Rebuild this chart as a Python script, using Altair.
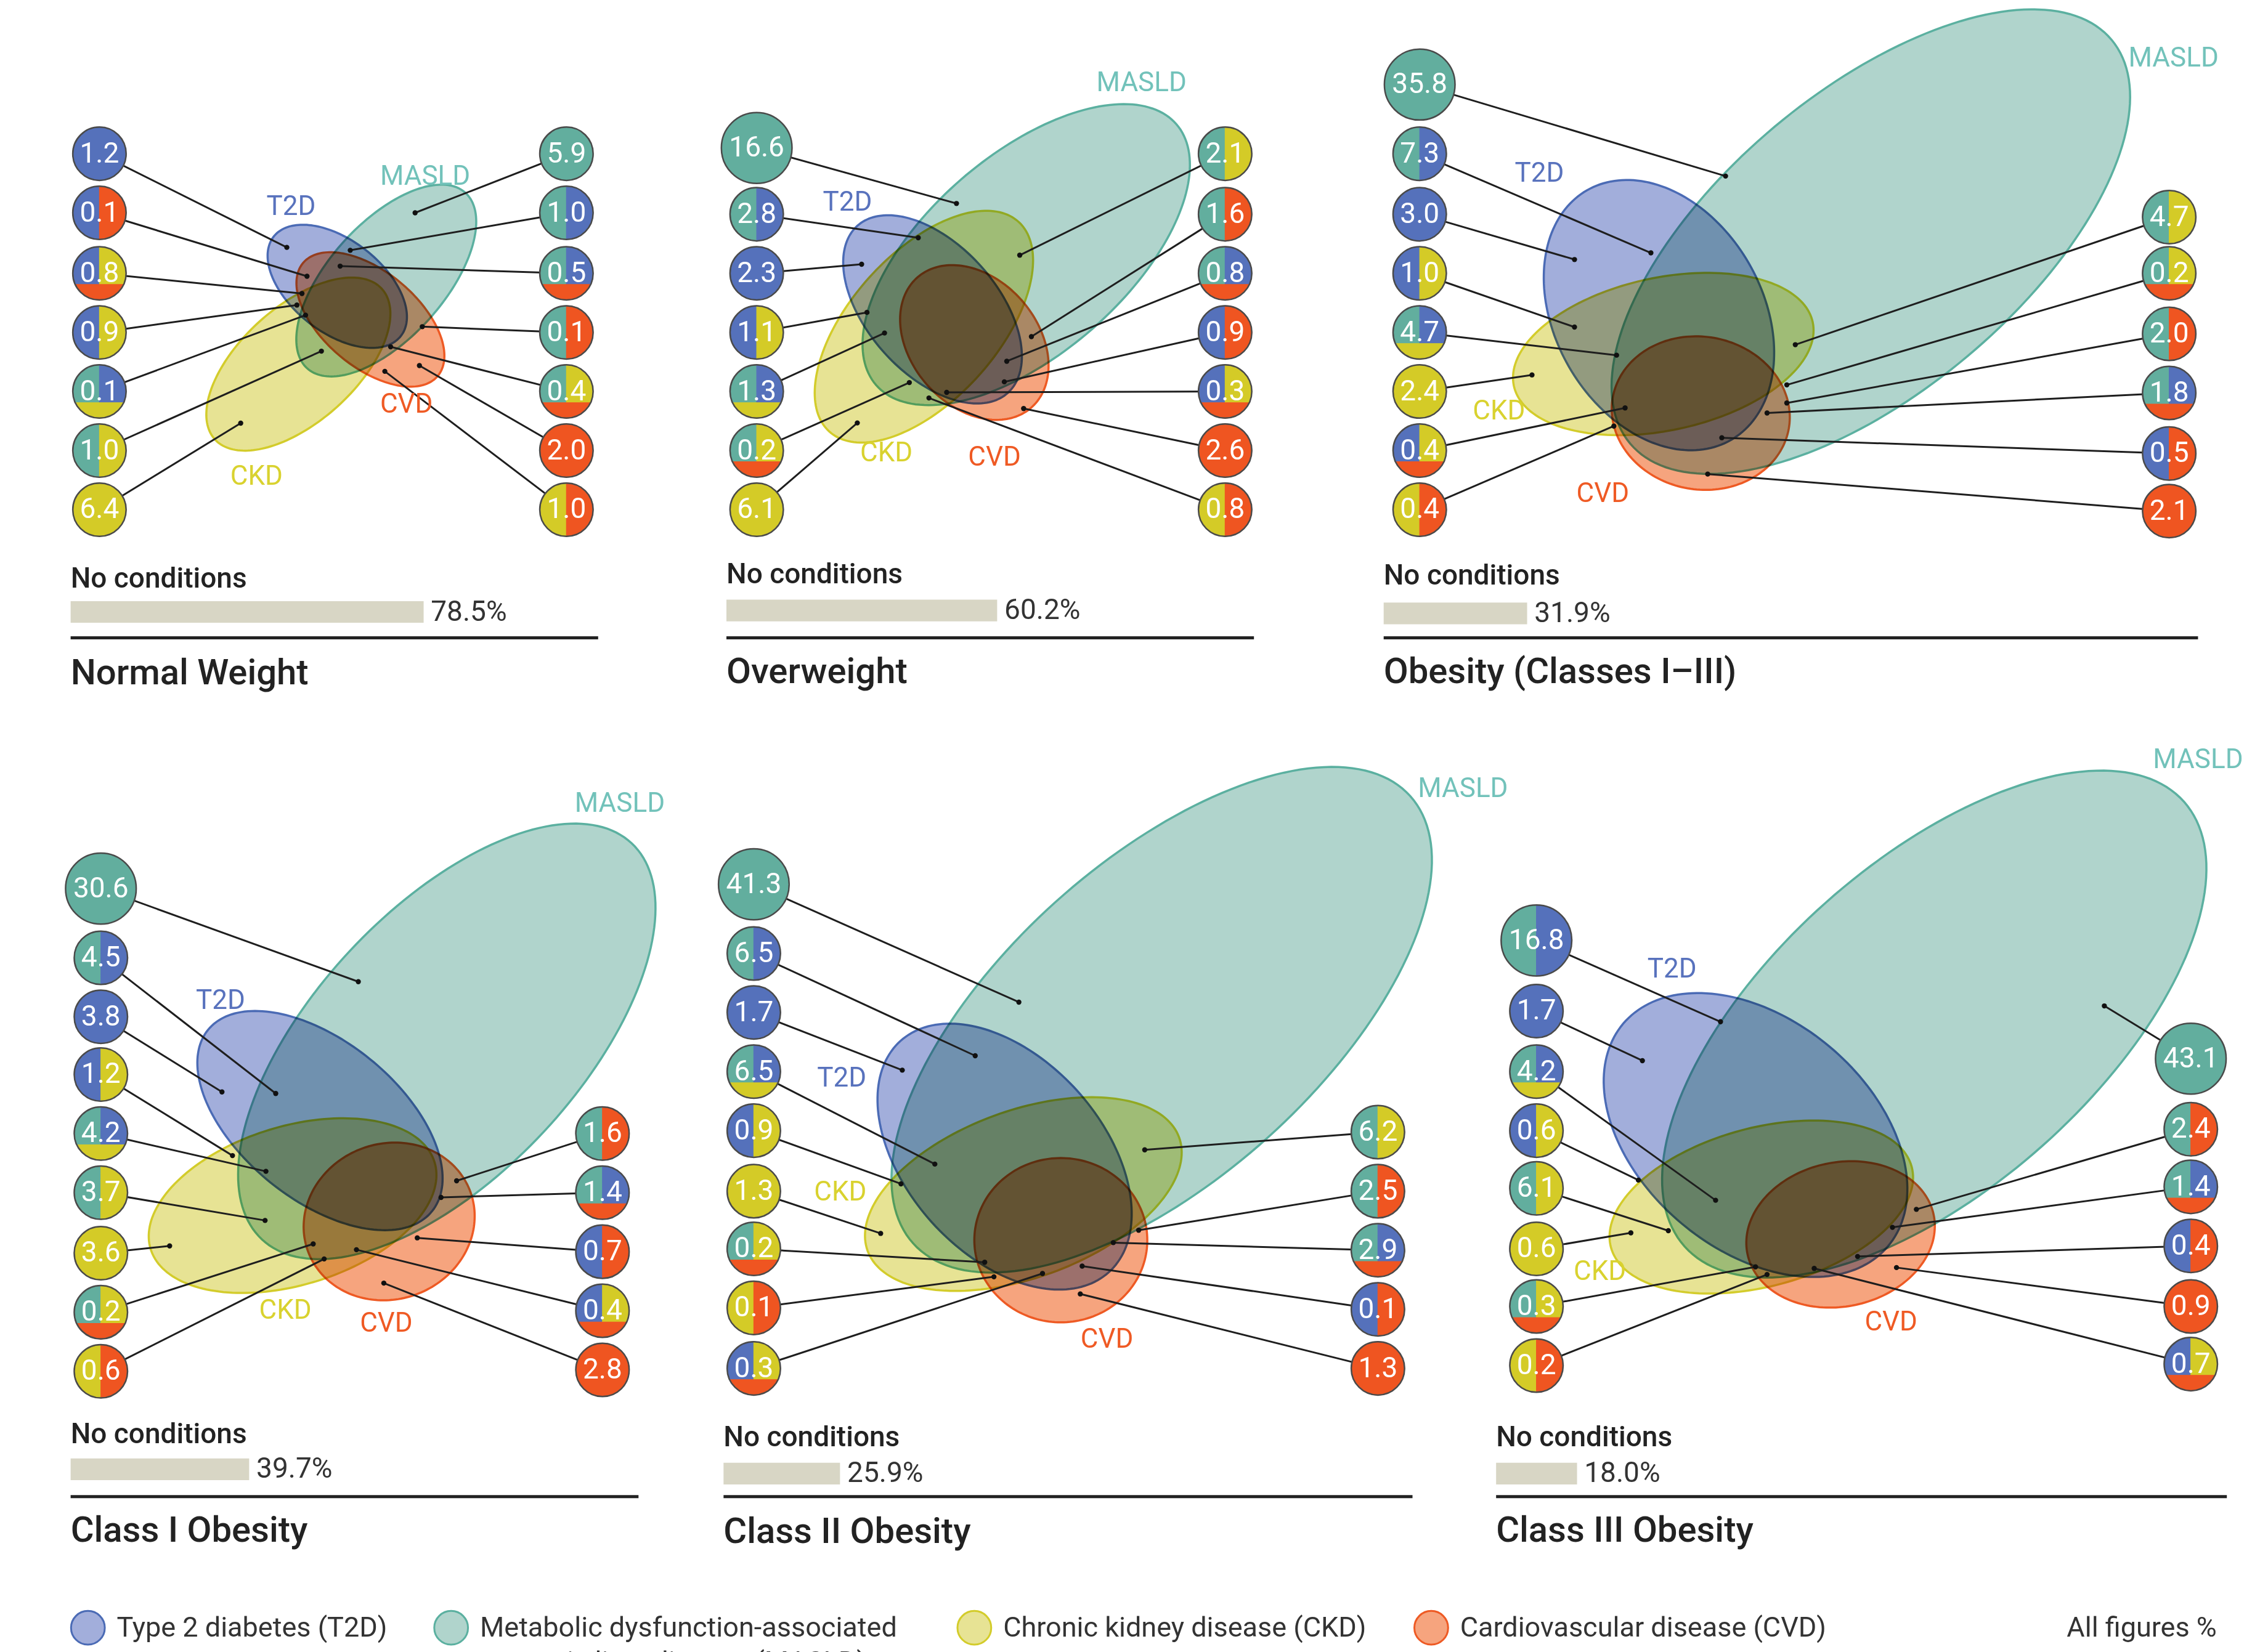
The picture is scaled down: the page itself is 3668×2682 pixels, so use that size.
import math
import numpy as np
import pandas as pd
import altair as alt

# ------------------------------------------------------------------ data
PANEL_TITLES = ["Normal Weight", "Overweight", "Obesity (Classes I\u2013III)",
                "Class I Obesity", "Class II Obesity", "Class III Obesity"]
NO_CONDITIONS = [78.5, 60.2, 31.9, 39.7, 25.9, 18.0]

# combinations: conditions joined by "+"; order = left half, right half, bottom
NW_LEFT = ["T2D", "T2D+CVD", "T2D+CKD+CVD", "T2D+CKD", "MASLD+T2D+CKD", "MASLD+CKD", "CKD"]
NW_LEFT_VAL = [1.2, 0.1, 0.8, 0.9, 0.1, 1.0, 6.4]
NW_RIGHT = ["MASLD", "MASLD+T2D", "MASLD+T2D+CVD", "MASLD+CVD", "MASLD+CKD+CVD", "CVD", "CKD+CVD"]
NW_RIGHT_VAL = [5.9, 1.0, 0.5, 0.1, 0.4, 2.0, 1.0]

OW_LEFT = ["MASLD", "MASLD+T2D", "T2D", "T2D+CKD", "MASLD+T2D+CKD", "MASLD+CKD+CVD", "CKD"]
OW_LEFT_VAL = [16.6, 2.8, 2.3, 1.1, 1.3, 0.2, 6.1]
OW_RIGHT = ["MASLD+CKD", "MASLD+CVD", "MASLD+T2D+CVD", "T2D+CVD", "T2D+CKD+CVD", "CVD", "CKD+CVD"]
OW_RIGHT_VAL = [2.1, 1.6, 0.8, 0.9, 0.3, 2.6, 0.8]

OB_LEFT = ["MASLD", "MASLD+T2D", "T2D", "T2D+CKD", "MASLD+T2D+CKD", "CKD", "T2D+CKD+CVD", "CKD+CVD"]
OB_LEFT_VAL = [35.8, 7.3, 3.0, 1.0, 4.7, 2.4, 0.4, 0.4]
OB_RIGHT = ["MASLD+CKD", "MASLD+CKD+CVD", "MASLD+CVD", "MASLD+T2D+CVD", "T2D+CVD", "CVD"]
OB_RIGHT_VAL = [4.7, 0.2, 2.0, 1.8, 0.5, 2.1]

C1_LEFT = ["MASLD", "MASLD+T2D", "T2D", "T2D+CKD", "MASLD+T2D+CKD", "MASLD+CKD", "CKD", "MASLD+CKD+CVD", "CKD+CVD"]
C1_LEFT_VAL = [30.6, 4.5, 3.8, 1.2, 4.2, 3.7, 3.6, 0.2, 0.6]
C1_RIGHT = ["MASLD+CVD", "MASLD+T2D+CVD", "T2D+CVD", "T2D+CKD+CVD", "CVD"]
C1_RIGHT_VAL = [1.6, 1.4, 0.7, 0.4, 2.8]

C2_LEFT = ["MASLD", "MASLD+T2D", "T2D", "MASLD+T2D+CKD", "T2D+CKD", "CKD", "MASLD+CKD+CVD", "CKD+CVD", "T2D+CKD+CVD"]
C2_LEFT_VAL = [41.3, 6.5, 1.7, 6.5, 0.9, 1.3, 0.2, 0.1, 0.3]
C2_RIGHT = ["MASLD+CKD", "MASLD+CVD", "MASLD+T2D+CVD", "T2D+CVD", "CVD"]
C2_RIGHT_VAL = [6.2, 2.5, 2.9, 0.1, 1.3]

C3_LEFT = ["MASLD+T2D", "T2D", "MASLD+T2D+CKD", "T2D+CKD", "MASLD+CKD", "CKD", "MASLD+CKD+CVD", "CKD+CVD"]
C3_LEFT_VAL = [16.8, 1.7, 4.2, 0.6, 6.1, 0.6, 0.3, 0.2]
C3_RIGHT = ["MASLD", "MASLD+CVD", "MASLD+T2D+CVD", "T2D+CVD", "CVD", "T2D+CKD+CVD"]
C3_RIGHT_VAL = [43.1, 2.4, 1.4, 0.4, 0.9, 0.7]

CONDITIONS = ["T2D", "MASLD", "CKD", "CVD"]
LEGEND_LABELS = ["Type 2 diabetes (T2D)", "Metabolic dysfunction-associated",
                 "Chronic kidney disease (CKD)", "Cardiovascular disease (CVD)"]
LEGEND_LINE2 = "steatotic liver disease (MASLD)"
NOTE = "All figures %"

# ------------------------------------------------------------------ styles
FILL = {"T2D": "#a2aedb", "MASLD": "#b0d4cc", "CKD": "#e7e394", "CVD": "#f6a47e"}
EDGE = {"T2D": "#4b6bb5", "MASLD": "#5bb0a0", "CKD": "#d3cc2b", "CVD": "#ee5a24"}
SOLID = {"T2D": "#5571bb", "MASLD": "#62ae9e", "CKD": "#d4cb27", "CVD": "#ef5521"}
LABELC = {"T2D": "#5872bd", "MASLD": "#72c2ba", "CKD": "#d9d22f", "CVD": "#ef5a24"}
FONT = "Roboto"

# ------------------------------------------------------------------ layout (reference units)
S = 3668 / 1568.0          # reference unit -> pixel
W, H = 3652, 2666
YSHIFT = 2.0
XD = [8 / S, (8 + W) / S]
YD = [8 / S + YSHIFT, (8 + H) / S + YSHIFT]
PCT_LEN = 3.12             # units per percent for the "no conditions" bar

LAYOUT = [
    dict(x0=49, sx2=415, colL=69, colR=393,
         rowsL=[104, 145, 187, 228, 269, 310, 351], rowsR=[104, 145, 187, 228, 269, 310, 351],
         ync=399, ybar=422, ysep=440, ytitle=465,
         ell={"T2D": (234, 196, 56, 32, 38), "MASLD": (268, 192, 82, 40, -48),
              "CKD": (207, 250, 78, 40, -42), "CVD": (257, 219, 61, 33, 40)},
         lab={"T2D": (202, 141), "MASLD": (295, 120), "CKD": (178, 328), "CVD": (282, 278)},
         dots={"T2D": (199, 169), "T2D+CVD": (213, 189), "T2D+CKD+CVD": (209.5, 201),
               "T2D+CKD": (206, 209), "MASLD+T2D+CKD": (212, 216), "MASLD+CKD": (223, 241),
               "CKD": (167, 291), "MASLD": (288, 145), "MASLD+T2D": (243, 171),
               "MASLD+T2D+CVD": (236, 182), "MASLD+CVD": (293, 224), "MASLD+CKD+CVD": (271, 238),
               "CVD": (291, 251), "CKD+CVD": (267, 255)}),
    dict(x0=504, sx2=870, colL=525, colR=850,
         rowsL=[100, 146, 187, 228, 269, 310, 351], rowsR=[104, 146, 187, 228, 269, 310, 351],
         ync=396, ybar=421, ysep=440, ytitle=464,
         ell={"T2D": (647, 212, 78, 45, 48), "MASLD": (712, 174, 138, 69, -41),
              "CKD": (641, 224, 98, 51, -48), "CVD": (676, 235, 60, 44, 49)},
         lab={"T2D": (588, 138), "MASLD": (792, 55), "CKD": (615, 312), "CVD": (690, 315)},
         dots={"MASLD": (663.6, 138.5), "MASLD+T2D": (637.1, 162.3), "T2D": (597.8, 180.7),
               "T2D+CKD": (601.5, 214.1), "MASLD+T2D+CKD": (613.7, 228.4),
               "MASLD+CKD+CVD": (630.9, 262.8), "CKD": (594.8, 290.8),
               "MASLD+CKD": (707.5, 174.4), "MASLD+CVD": (715.6, 230.9),
               "MASLD+T2D+CVD": (698.5, 248), "T2D+CVD": (696.8, 262.3),
               "T2D+CKD+CVD": (656.8, 269.6), "CVD": (710.2, 280.8), "CKD+CVD": (644.5, 273.5)}),
    dict(x0=960, sx2=1525, colL=985, colR=1505,
         rowsL=[56, 104, 146, 187, 228, 269, 310, 351], rowsR=[148, 187, 229, 270, 312, 352],
         ync=397, ybar=423, ysep=440, ytitle=464,
         ell={"T2D": (1151, 216, 100, 72, 60), "MASLD": (1298, 165, 218, 104, -40),
              "CKD": (1154, 243, 106, 53, -12), "CVD": (1180, 284, 62, 53, 10)},
         lab={"T2D": (1068, 118), "MASLD": (1508, 38), "CKD": (1040, 283), "CVD": (1112, 340)},
         dots={"MASLD": (1197.2, 119.5), "MASLD+T2D": (1145.4, 172.8), "T2D": (1092.4, 177.4),
               "T2D+CKD": (1092.4, 224.3), "MASLD+T2D+CKD": (1121.6, 243.8), "CKD": (1062.9, 257.5),
               "T2D+CKD+CVD": (1127.5, 280.4), "CKD+CVD": (1119.7, 293),
               "MASLD+CKD": (1245.6, 236.5), "MASLD+CKD+CVD": (1239.7, 264.4),
               "MASLD+CVD": (1239.7, 277), "MASLD+T2D+CVD": (1226, 283.9),
               "T2D+CVD": (1194.6, 301.1), "CVD": (1184.8, 326.3)}),
    dict(x0=49, sx2=443, colL=70, colR=418,
         rowsL=[614, 662, 703, 743, 784, 825, 867, 908, 949], rowsR=[784, 825, 866, 907, 948],
         ync=993, ybar=1017, ysep=1036, ytitle=1060,
         ell={"T2D": (222, 775, 100, 55, 39), "MASLD": (310, 720, 188, 92, -47),
              "CKD": (203, 834, 103, 55, -17), "CVD": (270, 845, 60, 54, -20)},
         lab={"T2D": (153, 692), "MASLD": (430, 555), "CKD": (198, 907), "CVD": (268, 916)},
         dots={"MASLD": (248.6, 678.6), "MASLD+T2D": (191.3, 756.2), "T2D": (154, 755.1),
               "T2D+CKD": (161.3, 799.3), "MASLD+T2D+CKD": (184.5, 810.2),
               "MASLD+CKD": (183.9, 844.3), "CKD": (117.7, 862), "MASLD+CKD+CVD": (217.3, 860.6),
               "CKD+CVD": (224.9, 871), "MASLD+CVD": (316.8, 816.8),
               "MASLD+T2D+CVD": (306, 828.3), "T2D+CVD": (289.5, 856.4),
               "T2D+CKD+CVD": (247.3, 864.6), "CVD": (266.3, 887.8)}),
    dict(x0=502, sx2=980, colL=523, colR=956,
         rowsL=[611, 659, 700, 741, 782, 824, 864, 905, 947], rowsR=[783, 824, 865, 906, 947],
         ync=995, ybar=1020, ysep=1036, ytitle=1061,
         ell={"T2D": (697, 800, 108, 68, 48), "MASLD": (806, 705, 232, 110, -42),
              "CKD": (710, 826, 115, 58, -20), "CVD": (736, 858, 60, 57, 0)},
         lab={"T2D": (584, 746), "MASLD": (1015, 545), "CKD": (583, 825), "CVD": (768, 927)},
         dots={"MASLD": (706.9, 692.8), "MASLD+T2D": (676.6, 730), "T2D": (626, 740),
               "MASLD+T2D+CKD": (648.6, 805.2), "T2D+CKD": (625.1, 818.9), "CKD": (611, 853.3),
               "MASLD+CKD+CVD": (683.2, 873.3), "CKD+CVD": (689.6, 883.4),
               "T2D+CKD+CVD": (723.3, 881.1), "MASLD+CKD": (794.2, 795.3),
               "MASLD+CVD": (790, 851.1), "MASLD+T2D+CVD": (772.4, 859.7),
               "T2D+CVD": (750.8, 876), "CVD": (749.5, 895.3)}),
    dict(x0=1038, sx2=1545, colL=1066, colR=1520,
         rowsL=[650, 699, 741, 782, 822, 864, 904, 945], rowsR=[732, 781, 821, 862, 904, 944],
         ync=995, ybar=1020, ysep=1036, ytitle=1060,
         ell={"T2D": (1218, 785, 120, 80, 40), "MASLD": (1342, 708, 232, 113, -41.7),
              "CKD": (1222, 835, 108, 55, -15), "CVD": (1277, 854, 66, 50, -12)},
         lab={"T2D": (1160, 670), "MASLD": (1525, 525), "CKD": (1110, 880), "CVD": (1312, 915)},
         dots={"MASLD+T2D": (1193.7, 706.4), "T2D": (1139.5, 733.4),
               "MASLD+T2D+CKD": (1190.3, 830.3), "T2D+CKD": (1136.7, 816.3),
               "MASLD+CKD": (1157.5, 851.4), "CKD": (1131.5, 852.9),
               "MASLD+CKD+CVD": (1218, 876.5), "CKD+CVD": (1226, 881.8),
               "MASLD": (1460, 695.4), "MASLD+CVD": (1329.6, 836.6),
               "MASLD+T2D+CVD": (1313, 849.1), "T2D+CVD": (1288.8, 869.3),
               "CVD": (1315.8, 877), "T2D+CKD+CVD": (1258.7, 877.6)}),
]
PANEL_DATA = [
    (NW_LEFT, NW_LEFT_VAL, NW_RIGHT, NW_RIGHT_VAL),
    (OW_LEFT, OW_LEFT_VAL, OW_RIGHT, OW_RIGHT_VAL),
    (OB_LEFT, OB_LEFT_VAL, OB_RIGHT, OB_RIGHT_VAL),
    (C1_LEFT, C1_LEFT_VAL, C1_RIGHT, C1_RIGHT_VAL),
    (C2_LEFT, C2_LEFT_VAL, C2_RIGHT, C2_RIGHT_VAL),
    (C3_LEFT, C3_LEFT_VAL, C3_RIGHT, C3_RIGHT_VAL),
]
LEGEND_X = [61, 313, 676, 993]
LEGEND_Y = 1127

# ------------------------------------------------------------------ shape helpers
K = 500.0  # custom-symbol path unit (px); symbol size = (2K)^2


def path_from(xs, ys):
    return "M" + "L".join(f"{a:.4f},{b:.4f}" for a, b in zip(xs, ys)) + "Z"


def ellipse_path(a, b, ang):
    t = np.linspace(0, 2 * np.pi, 181)[:-1]
    th = math.radians(ang)
    a, b = a * S / K, b * S / K
    xs = a * np.cos(t) * math.cos(th) - b * np.sin(t) * math.sin(th)
    ys = a * np.cos(t) * math.sin(th) + b * np.sin(t) * math.cos(th)
    return path_from(xs, ys)


def arc(d0, d1, n=60):
    t = np.radians(np.linspace(d0, d1, n))
    return list(np.cos(t)), list(np.sin(t))


CH = 0.42
AC = math.degrees(math.asin(CH))


def seg_path(kind):
    if kind == "FULL":
        xs, ys = arc(0, 359, 120)
    elif kind == "L":
        xs, ys = arc(90, 270)
    elif kind == "R":
        xs, ys = arc(-90, 90)
    elif kind == "TL":
        ax, ay = arc(270, 180 - AC)
        xs, ys = [0.0] + ax, [CH] + ay
    elif kind == "TR":
        ax, ay = arc(-90, AC)
        xs, ys = [0.0] + ax, [CH] + ay
    else:  # bottom chord
        xs, ys = arc(AC, 180 - AC)
    return path_from(xs, ys)


def segments(combo):
    p = combo.split("+")
    if len(p) == 1:
        return [("FULL", p[0])]
    if len(p) == 2:
        return [("L", p[0]), ("R", p[1])]
    return [("TL", p[0]), ("TR", p[1]), ("B", p[2])]


# ------------------------------------------------------------------ build tables
ell_rows, line_rows, dot_rows, seg_rows, ring_rows, num_rows = [], [], [], [], [], []
lab_rows, nc_rows, bar_rows, sep_rows, title_rows = [], [], [], [], []
for pi, (lay, (lc, lv, rc, rv)) in enumerate(zip(LAYOUT, PANEL_DATA)):
    for cond in CONDITIONS:
        cx, cy, a, b, ang = lay["ell"][cond]
        ell_rows.append(dict(x=cx, y=cy, shape=ellipse_path(a, b, ang),
                             fill=FILL[cond], stroke=EDGE[cond]))
        lx, ly = lay["lab"][cond]
        lab_rows.append(dict(x=lx, y=ly, text=cond, color=LABELC[cond]))
    for col, combos, vals, rows in ((lay["colL"], lc, lv, lay["rowsL"]),
                                    (lay["colR"], rc, rv, lay["rowsR"])):
        for combo, v, ry in zip(combos, vals, rows):
            r = 24.5 if v >= 10 else 18.5
            size = (2 * r * S) ** 2
            dx, dy = lay["dots"][combo]
            line_rows.append(dict(x=col, y=ry, x2=dx, y2=dy))
            dot_rows.append(dict(x=dx, y=dy))
            for kind, cond in segments(combo):
                seg_rows.append(dict(x=col, y=ry, shape=seg_path(kind), fill=SOLID[cond], size=size))
            ring_rows.append(dict(x=col, y=ry, size=size))
            num_rows.append(dict(x=col, y=ry, text=f"{v:.1f}"))
    nc_rows.append(dict(x=lay["x0"], y=lay["ync"], text="No conditions"))
    bar_rows.append(dict(x=lay["x0"], y=lay["ybar"] - 7.5, y2=lay["ybar"] + 7.5,
                         pct=NO_CONDITIONS[pi], ylab=lay["ybar"]))
    sep_rows.append(dict(x=lay["x0"], x2=lay["sx2"], y=lay["ysep"]))
    title_rows.append(dict(x=lay["x0"], y=lay["ytitle"], text=PANEL_TITLES[pi]))

leg_rows = [dict(x=lx, y=LEGEND_Y, fill=FILL[c], stroke=EDGE[c], text=t)
            for lx, c, t in zip(LEGEND_X, CONDITIONS, LEGEND_LABELS)]

# ------------------------------------------------------------------ encodings
xs = alt.Scale(domain=XD, nice=False, zero=False)
ys = alt.Scale(domain=YD, nice=False, zero=False, reverse=True)
X = alt.X("x:Q", scale=xs, axis=None)
Y = alt.Y("y:Q", scale=ys, axis=None)


def base(rows):
    return alt.Chart(pd.DataFrame(rows))


ellipses = base(ell_rows).mark_point(filled=True, opacity=1, size=(2 * K) ** 2,
                                     strokeWidth=3.5, blend="multiply").encode(
    x=X, y=Y, shape=alt.Shape("shape:N", scale=None),
    fill=alt.Fill("fill:N", scale=None), stroke=alt.Stroke("stroke:N", scale=None))

lines = base(line_rows).mark_rule(color="#1e1e1e", strokeWidth=3).encode(
    x=X, y=Y, x2="x2:Q", y2="y2:Q")

dots = base(dot_rows).mark_point(filled=True, opacity=1, shape="circle", size=70,
                                 color="#111111").encode(x=X, y=Y)

segs = base(seg_rows).mark_point(filled=True, opacity=1, strokeWidth=1.2).encode(
    x=X, y=Y, shape=alt.Shape("shape:N", scale=None), size=alt.Size("size:Q", scale=None),
    fill=alt.Fill("fill:N", scale=None), stroke=alt.Stroke("fill:N", scale=None))

rings = base(ring_rows).mark_point(filled=False, opacity=1, shape="circle",
                                   stroke="#4a4a4a", strokeWidth=2.5).encode(
    x=X, y=Y, size=alt.Size("size:Q", scale=None))

nums = base(num_rows).mark_text(font=FONT, fontSize=46, color="white",
                                align="center", baseline="middle").encode(
    x=X, y=Y, text="text:N")

labels = base(lab_rows).mark_text(font=FONT, fontSize=44, align="center",
                                  baseline="middle").encode(
    x=X, y=Y, text="text:N", color=alt.Color("color:N", scale=None))

nc = base(nc_rows).mark_text(font=FONT, fontSize=46, fontWeight=500, color="#222222",
                             align="left", baseline="middle").encode(x=X, y=Y, text="text:N")

bars = base(bar_rows).transform_calculate(xe=f"datum.x + datum.pct * {PCT_LEN}").mark_rect(
    color="#d8d6c5").encode(x=X, x2="xe:Q", y=Y, y2="y2:Q")

pct = base(bar_rows).transform_calculate(
    xt=f"datum.x + datum.pct * {PCT_LEN} + 5",
    lab="format(datum.pct, '.1f') + '%'").mark_text(
    font=FONT, fontSize=46, color="#333333", align="left", baseline="middle").encode(
    x=alt.X("xt:Q", scale=xs, axis=None), y=alt.Y("ylab:Q", scale=ys, axis=None), text="lab:N")

seps = base(sep_rows).mark_rule(color="#222222", strokeWidth=5).encode(x=X, x2="x2:Q", y=Y)

titles = base(title_rows).mark_text(font=FONT, fontSize=58, fontWeight=500, color="#222222",
                                    align="left", baseline="middle").encode(x=X, y=Y, text="text:N")

leg_icons = base(leg_rows).mark_point(filled=True, opacity=1, shape="circle", size=3000,
                                      strokeWidth=3).encode(
    x=X, y=Y, fill=alt.Fill("fill:N", scale=None), stroke=alt.Stroke("stroke:N", scale=None))

leg_text = base(leg_rows).transform_calculate(xt="datum.x + 20").mark_text(
    font=FONT, fontSize=45, color="#333333", align="left", baseline="middle").encode(
    x=alt.X("xt:Q", scale=xs, axis=None), y=Y, text="text:N")

extra = base([dict(x=LEGEND_X[1] + 20, y=LEGEND_Y + 24, text=LEGEND_LINE2),
              ]).mark_text(font=FONT, fontSize=45, color="#333333", align="left",
                           baseline="middle").encode(x=X, y=Y, text="text:N")

note = base([dict(x=1538, y=LEGEND_Y, text=NOTE)]).mark_text(
    font=FONT, fontSize=45, color="#333333", align="right", baseline="middle").encode(
    x=X, y=Y, text="text:N")

chart = alt.layer(ellipses, lines, dots, segs, rings, nums, labels, nc, bars, pct, seps,
                  titles, leg_icons, leg_text, extra, note).properties(
    width=W, height=H, padding=0).configure_view(stroke=None)

chart.save("out.html", embed_options={"renderer": "svg", "actions": False})
